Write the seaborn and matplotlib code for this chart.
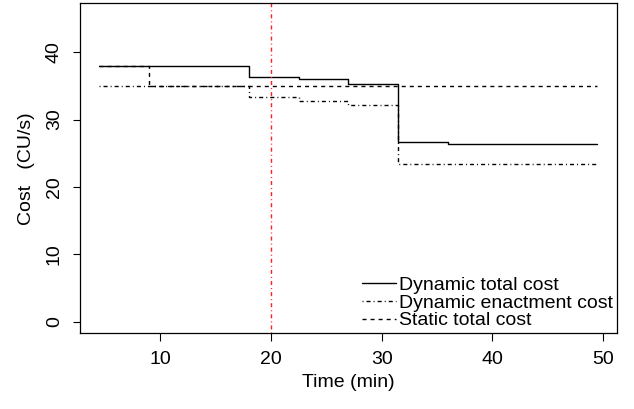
import pandas as pd
import seaborn as sns
import matplotlib.pyplot as plt

# step values (time in min, cost in CU/s)
dyn_time = [4.5, 18.0, 22.5, 27.0, 31.5, 36.0, 49.4]
dyn_total = [38.0, 36.3, 36.0, 35.2, 26.7, 26.3, 26.3]

enact_time = [4.5, 18.0, 22.5, 27.0, 31.5, 49.4]
enact_cost = [35.0, 33.3, 32.8, 32.1, 23.4, 23.4]

static_time = [4.5, 9.0, 49.4]
static_total = [38.0, 35.0, 35.0]

marker_time = 20

sns.set_style('ticks')
plt.rcParams['font.family'] = ['Liberation Sans', 'DejaVu Sans']
plt.rcParams['font.size'] = 14
plt.rcParams['text.color'] = 'black'
plt.rcParams['axes.labelcolor'] = 'black'

fig = plt.figure(figsize=(6.34, 4.09), dpi=100)
ax = fig.add_axes([80 / 634, 1 - 333.3 / 409, 537 / 634, 330 / 409])

df_dyn = pd.DataFrame({'t': dyn_time, 'c': dyn_total})
df_enact = pd.DataFrame({'t': enact_time, 'c': enact_cost})
df_static = pd.DataFrame({'t': static_time, 'c': static_total})

# static first so the solid line sits on top of it
sns.lineplot(data=df_static, x='t', y='c', ax=ax, color='black', lw=1.0,
             drawstyle='steps-post', label='Static total cost')
sns.lineplot(data=df_enact, x='t', y='c', ax=ax, color='black', lw=1.0,
             drawstyle='steps-post', label='Dynamic enactment cost')
sns.lineplot(data=df_dyn, x='t', y='c', ax=ax, color='black', lw=1.0,
             drawstyle='steps-post', label='Dynamic total cost')
lines = ax.get_lines()
lines[0].set_dashes([2.9, 2.9])
lines[1].set_dashes([0.7, 2.2, 2.9, 2.2])

ax.axvline(marker_time, color='#ff2020', lw=1.0, dashes=[0.7, 2.2, 2.9, 2.2])

ax.set_xlim(2.77, 51.24)
ax.set_ylim(-1.72, 47.24)
ax.set_xticks([10, 20, 30, 40, 50])
ax.set_yticks([0, 10, 20, 30, 40])
for lab in ax.get_yticklabels():
    lab.set_rotation(90)
    lab.set_va('center')
ax.tick_params(direction='out', length=5.4, width=0.8, pad=7, labelsize=14,
               colors='black')
for s in ax.spines.values():
    s.set_visible(True)
    s.set_color('black')
    s.set_linewidth(0.9)

ax.set_xlabel('Time (min)', fontsize=14, labelpad=5)
ax.set_ylabel('Cost   (CU/s)', fontsize=14, labelpad=8)

handles, labels = ax.get_legend_handles_labels()
order = [2, 1, 0]
ax.legend([handles[i] for i in order], [labels[i] for i in order],
          loc='lower right', bbox_to_anchor=(1.0, 0.0), frameon=False,
          fontsize=14, handlelength=1.75, handletextpad=0.15,
          labelspacing=0.0, borderpad=0.2, borderaxespad=0.0)

fig.savefig('out.png', dpi=100)
